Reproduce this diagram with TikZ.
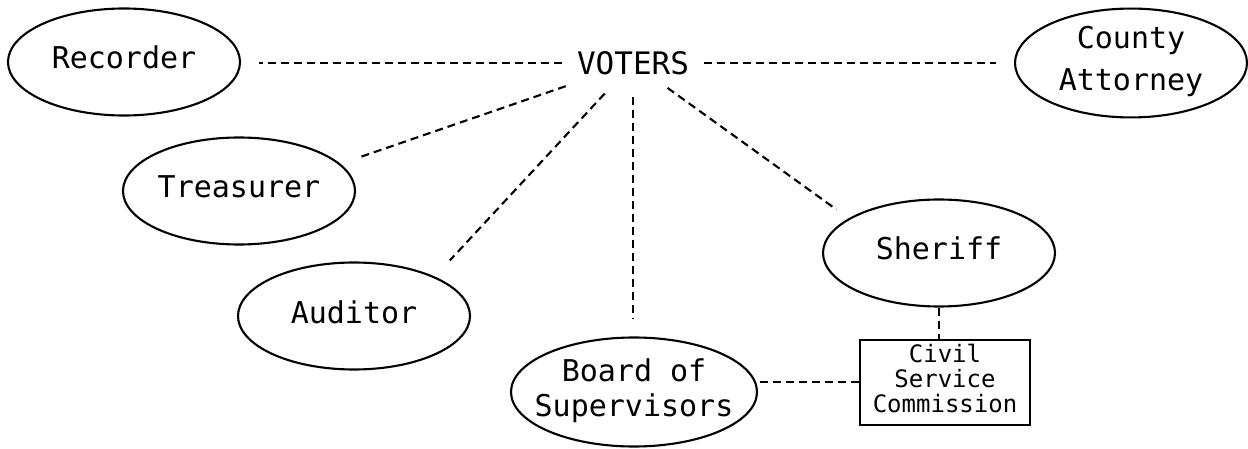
\documentclass[tikz,border=0pt]{standalone}
\usepackage{fontspec}
\setmonofont{DejaVu Sans Mono}
\usetikzlibrary{shapes.geometric}
\newcommand{\zctr}[1]{\makebox[0pt]{\begin{tabular}{@{}c@{}}#1\end{tabular}}}
\begin{document}
\begin{tikzpicture}[x=1pt,y=-1pt,
  oval/.style={draw, ellipse, line width=2.1pt, minimum width=232pt, minimum height=107pt, inner sep=0pt, font=\ttfamily\fontsize{30}{35}\selectfont},
  cscbox/.style={draw, rectangle, line width=2pt, minimum width=170pt, minimum height=85pt, inner sep=0pt, font=\ttfamily\fontsize{24}{22.5}\selectfont},
  conn/.style={line width=2.1pt, dash pattern=on 8pt off 5pt},
  votstyle/.style={inner sep=0pt, minimum width=142pt, minimum height=46pt, font=\ttfamily\fontsize{31}{36}\selectfont}
]
\useasboundingbox (0,0) rectangle (1248,449);
\node[votstyle] (vot) at (633,63) {VOTERS};
\node[oval] (rec) at (124,62) {\zctr{Recorder}};
\node[oval] (cty) at (1131,63) {\zctr{County\\[7pt]Attorney}};
\node[oval] (tre) at (239,191) {\zctr{Treasurer}};
\node[oval] (aud) at (354,316) {\zctr{Auditor}};
\node[oval, minimum width=246pt, minimum height=109pt] (brd) at (634,392) {\zctr{Board of\\Supervisors}};
\node[oval] (shf) at (939,253) {\zctr{Sheriff}};
\node[cscbox] (csc) at (945,382) {\zctr{Civil\\Service\\Commission}};

\draw[conn] (vot.west) -- ([xshift=18pt]vot.west -| rec.east);
\draw[conn] (vot.east) -- ([xshift=-18pt]vot.east -| cty.west);
\draw[conn, shorten >=20pt] (vot) -- (tre.15);
\draw[conn, shorten <=10pt, shorten >=22pt] (vot) -- (aud.26);
\draw[conn, shorten <=11pt] (vot.south) -- ([yshift=17pt]vot.south |- brd.north);
\draw[conn, shorten <=3pt, shorten >=15pt] (vot) -- (shf.159);
\draw[conn] (shf.south) -- (shf.south |- csc.north);
\draw[conn] (csc.west) -- (csc.west -| brd.east);
\end{tikzpicture}
\end{document}
